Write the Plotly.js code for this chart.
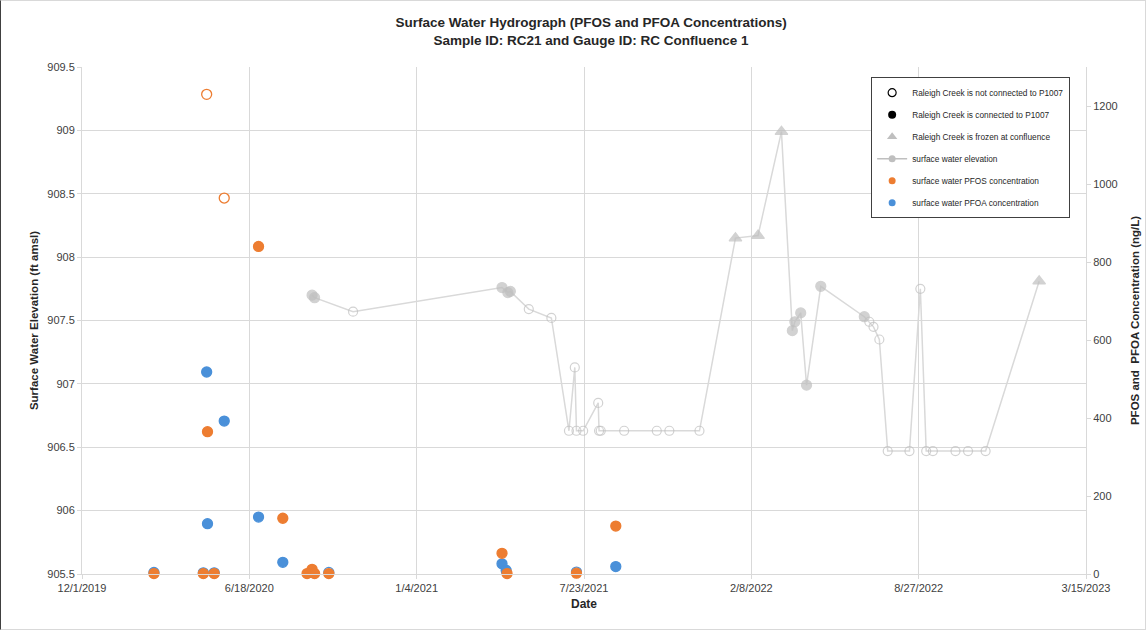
<!DOCTYPE html>
<html>
<head>
<meta charset="utf-8">
<script src="https://cdn.plot.ly/plotly-3.0.1.min.js"></script>
<style>
html,body{margin:0;padding:0;background:#fff;}
#chart{width:1146px;height:630px;box-sizing:border-box;border:1px solid #d9d9d9;border-left:1px solid #404040;}
</style>
</head>
<body>
<div id="chart"></div>
<script>
// ---------- data ----------
const chartTitle = 'Surface Water Hydrograph (PFOS and PFOA Concentrations)<br>Sample ID: RC21 and Gauge ID: RC Confluence 1';
const xTickVals = ['2019-12-01','2020-06-18','2021-01-04','2021-07-23','2022-02-08','2022-08-27','2023-03-15'];
const xTickText = ['12/1/2019','6/18/2020','1/4/2021','7/23/2021','2/8/2022','8/27/2022','3/15/2023'];

const legendNames = [
  'Raleigh Creek is not connected to P1007',
  'Raleigh Creek is connected to P1007',
  'Raleigh Creek is frozen at confluence',
  'surface water elevation',
  'surface water PFOS concentration',
  'surface water PFOA concentration'
];

// surface water elevation (ft amsl); status: C = connected, N = not connected, F = frozen
const elevDates = ['2020-09-01','2020-09-04','2020-10-20','2021-04-16','2021-04-23','2021-04-26','2021-05-18','2021-06-14',
  '2021-07-05','2021-07-12','2021-07-14','2021-07-22','2021-08-09','2021-08-10','2021-08-12','2021-09-09','2021-10-18',
  '2021-11-02','2021-12-08','2022-01-20','2022-02-16','2022-03-16','2022-03-29','2022-04-01','2022-04-08','2022-04-15',
  '2022-05-02','2022-06-23','2022-06-29','2022-07-04','2022-07-11','2022-07-21','2022-08-16','2022-08-29','2022-09-05',
  '2022-09-13','2022-10-10','2022-10-25','2022-11-15','2023-01-18'];
const elevValues = [907.70,907.68,907.57,907.76,907.72,907.73,907.59,907.52,
  906.63,907.13,906.63,906.63,906.85,906.63,906.63,906.63,906.63,
  906.63,906.63,908.15,908.17,908.99,907.42,907.49,907.56,906.99,
  907.77,907.53,907.49,907.45,907.35,906.47,906.47,907.75,906.47,
  906.47,906.47,906.47,906.47,907.81];
const elevStatus = ['C','C','N','C','C','C','N','N',
  'N','N','N','N','N','N','N','N','N',
  'N','N','F','F','F','C','C','C','C',
  'C','C','N','N','N','N','N','N','N',
  'N','N','N','N','F'];

// PFOS concentration (ng/L)
const pfosDates = ['2020-02-25','2020-04-24','2020-04-28','2020-04-29','2020-05-07','2020-05-19','2020-06-29','2020-07-28',
  '2020-08-26','2020-09-01','2020-09-04','2020-09-21','2021-04-16','2021-04-22','2021-07-14','2021-08-30'];
const pfosValues = [1,1,1230,365,1,964,840,143,1,12,1,1,53,1,2,123];
const pfosStatus = ['C','C','N','C','C','N','C','C','C','C','C','C','C','C','C','C'];

// PFOA concentration (ng/L)
const pfoaDates = ['2020-02-25','2020-04-24','2020-04-28','2020-04-29','2020-05-07','2020-05-19','2020-06-29','2020-07-28',
  '2020-09-01','2020-09-21','2021-04-16','2021-04-21','2021-07-14','2021-08-30'];
const pfoaValues = [4,3,518,129,3,392,146,30,4,4,26,9,5,19];
const pfoaStatus = ['C','C','C','C','C','C','C','C','C','N','C','C','N','C'];

// ---------- styles ----------
const GRAY = '#BFBFBF', LINEGRAY = '#D9D9D9', ORANGE = '#ED7D31', BLUE = '#4A90D9';
const FONT = 'Liberation Sans, Arial, sans-serif';
const symFor = s => s === 'N' ? 'circle-open' : (s === 'F' ? 'triangle-up' : 'circle');
const sizeFor = s => s === 'N' ? 9 : (s === 'F' ? 11 : 10);

const legendTraces = [
  {name: legendNames[0], mode:'markers', marker:{symbol:'circle-open', color:'#000', size:8, line:{width:1.2, color:'#000'}}},
  {name: legendNames[1], mode:'markers', marker:{symbol:'circle', color:'#000', size:8}},
  {name: legendNames[2], mode:'markers', marker:{symbol:'triangle-up', color:GRAY, size:9}},
  {name: legendNames[3], mode:'lines+markers', line:{color:GRAY, width:1.5}, marker:{symbol:'circle', color:GRAY, size:7}},
  {name: legendNames[4], mode:'markers', marker:{symbol:'circle', color:ORANGE, size:7}},
  {name: legendNames[5], mode:'markers', marker:{symbol:'circle', color:BLUE, size:7}}
].map((t,i) => Object.assign(t, {x:[null], y:[null], type:'scatter', showlegend:true, legendgroup:'g'+i, hoverinfo:'skip'}));

const elevTrace = {
  type:'scatter', mode:'lines+markers', x:elevDates, y:elevValues, yaxis:'y', showlegend:false,
  line:{color:LINEGRAY, width:1.5},
  marker:{symbol:elevStatus.map(symFor), size:elevStatus.map(sizeFor), color:GRAY, line:{color:GRAY, width:1.2}},
  cliponaxis:false
};
const pfoaTrace = {
  type:'scatter', mode:'markers', x:pfoaDates, y:pfoaValues, yaxis:'y2', showlegend:false,
  marker:{symbol:pfoaStatus.map(symFor), size:10, color:BLUE, line:{color:BLUE, width:1.3}},
  cliponaxis:false
};
const pfosTrace = {
  type:'scatter', mode:'markers', x:pfosDates, y:pfosValues, yaxis:'y2', showlegend:false,
  marker:{symbol:pfosStatus.map(symFor), size:10, color:ORANGE, line:{color:ORANGE, width:1.3}},
  cliponaxis:false
};

const axisCommon = {
  showline:true, linecolor:LINEGRAY, linewidth:1, ticks:'outside', ticklen:4, tickcolor:LINEGRAY,
  zeroline:false, tickfont:{family:FONT, size:11, color:'#404040'}
};

const layout = {
  width:1144, height:628,
  margin:{l:81, r:59, t:66, b:55},
  paper_bgcolor:'#fff', plot_bgcolor:'#fff',
  font:{family:FONT, size:11, color:'#404040'},
  title:{text:chartTitle, x:0.507, xref:'paper', xanchor:'center', y:1-26/628, yanchor:'middle',
         font:{family:FONT, size:13.5, color:'#262626', weight:'bold'}},
  xaxis:Object.assign({}, axisCommon, {
    type:'date', range:[xTickVals[0], xTickVals[xTickVals.length-1]],
    tickmode:'array', tickvals:xTickVals, ticktext:xTickText,
    showgrid:true, gridcolor:LINEGRAY, gridwidth:1,
    title:{text:'Date', standoff:6, font:{family:FONT, size:12, color:'#262626', weight:'bold'}}
  }),
  yaxis:Object.assign({}, axisCommon, {
    range:[905.5, 909.5], tick0:905.5, dtick:0.5, showgrid:true, gridcolor:LINEGRAY, gridwidth:1,
    title:{text:'Surface Water Elevation (ft amsl)', standoff:6, font:{family:FONT, size:11.5, color:'#262626', weight:'bold'}}
  }),
  yaxis2:Object.assign({}, axisCommon, {
    overlaying:'y', side:'right', range:[0, 1300], tick0:0, dtick:200, showgrid:false,
    title:{text:'PFOS and  PFOA Concentration (ng/L)', standoff:14, font:{family:FONT, size:11.5, color:'#262626', weight:'bold'}}
  }),
  legend:{x:0.786, xanchor:'left', y:0.98, yanchor:'top', bgcolor:'#fff', bordercolor:'#404040', borderwidth:1,
          font:{family:FONT, size:8.3, color:'#262626'}, tracegroupgap:3, itemwidth:30},
  showlegend:true
};

Plotly.newPlot('chart', [elevTrace, pfoaTrace, pfosTrace].concat(legendTraces), layout, {displayModeBar:false, staticPlot:true});
</script>
</body>
</html>
